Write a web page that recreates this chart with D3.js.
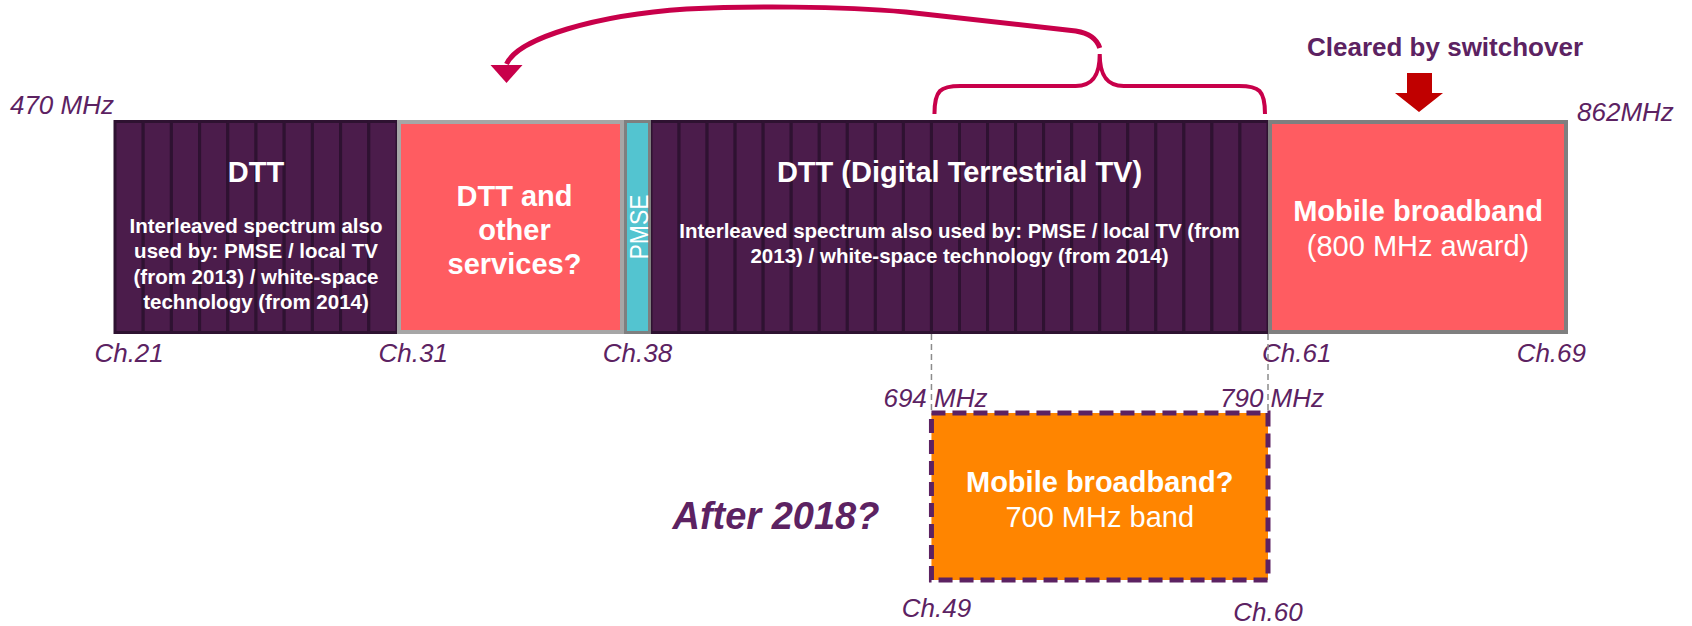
<!DOCTYPE html>
<html>
<head>
<meta charset="utf-8">
<script src="https://cdn.jsdelivr.net/npm/d3@7"></script>
<style>
  body { margin: 0; background: #fff; }
  text { font-family: "Liberation Sans", Arial, sans-serif; }
</style>
</head>
<body>
<svg id="chart"></svg>
<script>
// UHF spectrum blocks, by channel (8 MHz each, Ch.21 starts at 470 MHz)
const blockFirstCh = [21, 31, 38, 39, 61];
const blockLastCh = [30, 37, 38, 60, 69];
const blockKind = ["dtt", "other", "pmse", "dtt", "mobile"];
const blockTitle = [
  ["DTT"],
  ["DTT and", "other", "services?"],
  ["PMSE"],
  ["DTT (Digital Terrestrial TV)"],
  ["Mobile broadband"]
];
const blockNote = [
  ["Interleaved spectrum also", "used by: PMSE / local TV", "(from 2013) / white-space", "technology (from 2014)"],
  [],
  [],
  ["Interleaved spectrum also used by: PMSE / local TV (from", "2013) / white-space technology (from 2014)"],
  ["(800 MHz award)"]
];
const channelTicks = [21, 31, 38, 61, 69];
const edgeFreqs = [470, 862];
const edgeFreqLabels = ["470 MHz", "862MHz"];

// possible future 700 MHz band
const futureFirstCh = 49;
const futureLastCh = 60;
const futureFreqs = [694, 790];
const futureFreqLabels = ["694 MHz", "790 MHz"];
const futureTitle = ["Mobile broadband?", "700 MHz band"];
const futureCaption = "After 2018?";
const clearedCaption = "Cleared by switchover";

const chFreq = ch => 470 + (ch - 21) * 8;

const config = {
  width: 1692, height: 626,
  barTop: 120, barBottom: 334,
  futureTop: 413, futureBottom: 580,
  // drawn widths are schematic: each block gets its own stretch
  xRange: [115, 397, 624, 651, 1268, 1568],
  purple: "#5c2262", dark: "#4b1c4b", darkLine: "#2e1231",
  red: "#ff5c61", cyan: "#53c4d0", orange: "#ff8500",
  magenta: "#c8004a", arrowRed: "#c00000"
};

const svg = d3.select("#chart")
    .attr("width", config.width)
    .attr("height", config.height);

const xDomain = blockFirstCh.map(chFreq).concat([chFreq(blockLastCh[blockLastCh.length - 1] + 1)]);
const x = d3.scaleLinear().domain(xDomain).range(config.xRange);

const blocks = blockFirstCh.map((c, i) => ({
  first: c, last: blockLastCh[i], kind: blockKind[i],
  title: blockTitle[i], note: blockNote[i],
  x0: x(chFreq(c)), x1: x(chFreq(blockLastCh[i] + 1))
}));

const yTop = config.barTop, yBot = config.barBottom, yMid = (yTop + yBot) / 2;

// DTT blocks: one cell per channel
const cells = [];
blocks.filter(b => b.kind === "dtt").forEach(b => {
  d3.range(b.first, b.last + 1).forEach(ch => cells.push(ch));
});
svg.append("g").selectAll("rect")
    .data(cells)
    .join("rect")
    .attr("x", ch => x(chFreq(ch)))
    .attr("y", yTop + 1.5)
    .attr("width", ch => x(chFreq(ch + 1)) - x(chFreq(ch)))
    .attr("height", yBot - yTop - 3)
    .attr("fill", config.dark)
    .attr("stroke", config.darkLine)
    .attr("stroke-width", 3);

const solidStyle = {
  other: { fill: config.red, stroke: "#a6a6a6", sw: 4 },
  pmse: { fill: config.cyan, stroke: "#7f7f7f", sw: 3 },
  mobile: { fill: config.red, stroke: "#7f7f7f", sw: 4 }
};
svg.append("g").selectAll("rect")
    .data(blocks.filter(b => b.kind !== "dtt"))
    .join("rect")
    .attr("x", b => b.x0 + solidStyle[b.kind].sw / 2)
    .attr("y", b => yTop + solidStyle[b.kind].sw / 2)
    .attr("width", b => b.x1 - b.x0 - solidStyle[b.kind].sw)
    .attr("height", b => yBot - yTop - solidStyle[b.kind].sw)
    .attr("fill", b => solidStyle[b.kind].fill)
    .attr("stroke", b => solidStyle[b.kind].stroke)
    .attr("stroke-width", b => solidStyle[b.kind].sw);

// block texts
const labels = svg.append("g").attr("fill", "#fff").attr("text-anchor", "middle")
    .attr("dominant-baseline", "central");
blocks.forEach(b => {
  const cx = (b.x0 + b.x1) / 2;
  if (b.kind === "dtt") {
    const noteTop = b.note.length > 2 ? 105 : 110;
    labels.append("text").attr("x", cx).attr("y", yTop + 52)
        .attr("font-size", 29).attr("font-weight", "bold").text(b.title[0]);
    b.note.forEach((t, j) => {
      labels.append("text").attr("x", cx).attr("y", yTop + noteTop + j * 25.5)
          .attr("font-size", 20.5).attr("font-weight", "bold").text(t);
    });
  } else if (b.kind === "other") {
    b.title.forEach((t, j) => {
      labels.append("text").attr("x", cx + 4).attr("y", yMid + 3 + (j - 1) * 34)
          .attr("font-size", 29).attr("font-weight", "bold").text(t);
    });
  } else if (b.kind === "pmse") {
    labels.append("text")
        .attr("transform", `translate(${cx + 1},${yMid}) rotate(-90)`)
        .attr("font-size", 26)
        .attr("textLength", 65).attr("lengthAdjust", "spacingAndGlyphs")
        .text(b.title[0]);
  } else {
    labels.append("text").attr("x", cx).attr("y", yMid - 16)
        .attr("font-size", 29).attr("font-weight", "bold").text(b.title[0]);
    labels.append("text").attr("x", cx).attr("y", yMid + 19)
        .attr("font-size", 29).text(b.note[0]);
  }
});

// channel and frequency labels
const purpleText = svg.append("g").attr("fill", config.purple)
    .attr("font-style", "italic").attr("font-size", 26)
    .attr("dominant-baseline", "central");
purpleText.selectAll(".ch")
    .data(channelTicks)
    .join("text")
    .attr("class", "ch")
    .attr("text-anchor", "middle")
    .attr("x", ch => x(chFreq(ch) + 4) + (ch === 61 ? 12 : 0))
    .attr("y", yBot + 19)
    .text(ch => `Ch.${ch}`);

purpleText.append("text")
    .attr("text-anchor", "end")
    .attr("x", x(edgeFreqs[0]) - 1).attr("y", yTop - 15)
    .text(edgeFreqLabels[0]);
purpleText.append("text")
    .attr("text-anchor", "start")
    .attr("x", x(edgeFreqs[1]) + 9).attr("y", yTop - 8)
    .text(edgeFreqLabels[1]);

// 700 MHz band below
const fx0 = x(futureFreqs[0]), fx1 = x(futureFreqs[1]);
svg.append("g").selectAll("line")
    .data(futureFreqs)
    .join("line")
    .attr("x1", f => x(f)).attr("x2", f => x(f))
    .attr("y1", yBot).attr("y2", config.futureTop)
    .attr("stroke", "#8c8c8c").attr("stroke-width", 1.5)
    .attr("stroke-dasharray", "6,4");

svg.append("rect")
    .attr("x", fx0).attr("y", config.futureTop)
    .attr("width", fx1 - fx0).attr("height", config.futureBottom - config.futureTop)
    .attr("fill", config.orange)
    .attr("stroke", config.purple).attr("stroke-width", 5)
    .attr("stroke-dasharray", "14,7");

purpleText.selectAll(".fq")
    .data(futureFreqs)
    .join("text")
    .attr("class", "fq")
    .attr("text-anchor", "middle")
    .attr("x", f => x(f) + 4)
    .attr("y", config.futureTop - 15)
    .text((f, i) => futureFreqLabels[i]);

purpleText.append("text")
    .attr("text-anchor", "middle")
    .attr("x", fx0 + 5).attr("y", config.futureBottom + 28)
    .text(`Ch.${futureFirstCh}`);
purpleText.append("text")
    .attr("text-anchor", "middle")
    .attr("x", fx1).attr("y", config.futureBottom + 32)
    .text(`Ch.${futureLastCh}`);

const fcx = (fx0 + fx1) / 2, fcy = (config.futureTop + config.futureBottom) / 2;
const futureText = svg.append("g").attr("fill", "#fff").attr("text-anchor", "middle")
    .attr("dominant-baseline", "central");
futureText.append("text").attr("x", fcx).attr("y", fcy - 15)
    .attr("font-size", 29).attr("font-weight", "bold").text(futureTitle[0]);
futureText.append("text").attr("x", fcx).attr("y", fcy + 20)
    .attr("font-size", 29).text(futureTitle[1]);

svg.append("text")
    .attr("x", fx0 - 52).attr("y", fcy + 19)
    .attr("text-anchor", "end").attr("dominant-baseline", "central")
    .attr("fill", config.purple).attr("font-size", 38)
    .attr("font-weight", "bold").attr("font-style", "italic")
    .text(futureCaption);

// curly brace over the 700 MHz band, and arrow towards Ch.31-37
const bl = fx0 + 3, br = fx1 - 3, bm = (bl + br) / 2, by = 86;
const brace = `M${bl},${yTop - 6} C${bl},${by + 4} ${bl + 6},${by} ${bl + 26},${by}`
  + ` L${bm - 24},${by} C${bm - 6},${by} ${bm},${by - 12} ${bm},${by - 32}`
  + ` C${bm},${by - 12} ${bm + 6},${by} ${bm + 24},${by}`
  + ` L${br - 26},${by} C${br - 6},${by} ${br},${by + 4} ${br},${yTop - 6}`;
svg.append("path")
    .attr("d", brace)
    .attr("fill", "none")
    .attr("stroke", config.magenta).attr("stroke-width", 4);

const other = blocks.find(b => b.kind === "other");
const tx = (other.x0 + other.x1) / 2 - 4;
const arrow = `M${bm},${by - 38} C${bm - 3},${by - 48} ${bm - 12},${by - 53} ${bm - 24},${by - 55}`
  + ` L${bm - 194},${by - 74} C${bm - 260},${by - 80} ${tx + 240},${by - 80} ${tx + 180},${by - 77}`
  + ` C${tx + 90},${by - 71} ${tx + 12},${by - 48} ${tx},${by - 22}`;
svg.append("path")
    .attr("d", arrow)
    .attr("fill", "none")
    .attr("stroke", config.magenta).attr("stroke-width", 5);
svg.append("path")
    .attr("d", `M${tx - 16},${by - 21} L${tx + 16},${by - 21} L${tx},${by - 3} Z`)
    .attr("fill", config.magenta);

// "Cleared by switchover" over the 800 MHz block
const mob = blocks.find(b => b.kind === "mobile");
const mx = (mob.x0 + mob.x1) / 2 + 1;
svg.append("text")
    .attr("x", mx + 26).attr("y", 47)
    .attr("text-anchor", "middle").attr("dominant-baseline", "central")
    .attr("fill", config.purple).attr("font-size", 26).attr("font-weight", "bold")
    .text(clearedCaption);
svg.append("path")
    .attr("d", `M${mx - 12},73 L${mx + 13},73 L${mx + 13},93 L${mx + 24},93 L${mx},112 L${mx - 24},93 L${mx - 12},93 Z`)
    .attr("fill", config.arrowRed);
</script>
</body>
</html>
